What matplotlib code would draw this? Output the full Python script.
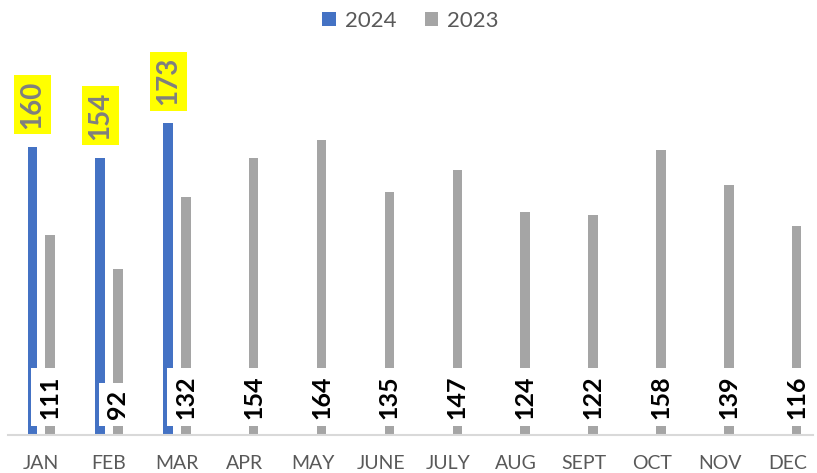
import matplotlib
matplotlib.use("Agg")
import matplotlib.pyplot as plt
import numpy as np

plt.rcParams['font.family'] = ['Lato', 'DejaVu Sans']

months = ["JAN", "FEB", "MAR", "APR", "MAY", "JUNE", "JULY", "AUG", "SEPT", "OCT", "NOV", "DEC"]
v2024 = [160, 154, 173]
v2023 = [111, 92, 132, 154, 164, 135, 147, 124, 122, 158, 139, 116]

blue = "#4472C4"
grey = "#A5A5A5"

fig = plt.figure(figsize=(8.17, 4.73), dpi=100)
ax = fig.add_axes([0.01, 0.08, 0.985, 0.80])

x = np.arange(len(months))
w = 0.14
off = 0.13
ax.bar(x[:len(v2024)] - off, v2024, w, color=blue, label="2024", zorder=2)
ax.bar(x + off, v2023, w, color=grey, label="2023", zorder=2)

# 2024 labels: above the bars, yellow box
for i, v in enumerate(v2024):
    ax.text(i - off, v + 10, str(v), rotation=90, ha="center", va="bottom",
            fontsize=20, fontweight="bold", color="#7F7F7F",
            bbox=dict(boxstyle="square,pad=0.2", fc="#FFFF00", ec="none"), zorder=4)

# 2023 labels: near the base, white box
for i, v in enumerate(v2023):
    ax.text(i + off, 9, str(v), rotation=90, ha="center", va="bottom",
            fontsize=18, fontweight="bold", color="black",
            bbox=dict(boxstyle="square,pad=0.28", fc="white", ec="none"), zorder=3)

ax.set_xlim(-0.486, 11.369)
ax.set_ylim(0, 210)
ax.set_xticks(x)
ax.set_xticklabels(months, fontsize=14, color="#595959")
ax.tick_params(axis="x", length=0, pad=14)
ax.set_yticks([])
for s in ["top", "right", "left"]:
    ax.spines[s].set_visible(False)
ax.spines["bottom"].set_color("#D9D9D9")
ax.spines["bottom"].set_linewidth(1.5)

leg = ax.legend(loc="upper center", bbox_to_anchor=(0.5, 1.175), ncol=2, frameon=False,
                fontsize=16, handlelength=0.6, handleheight=0.6, columnspacing=1.3,
                handletextpad=0.4)
for t in leg.get_texts():
    t.set_color("#595959")

fig.savefig("out.png", dpi=100)
